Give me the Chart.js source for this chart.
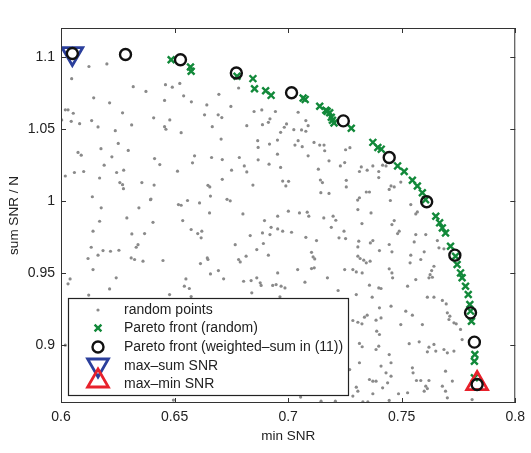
<!DOCTYPE html>
<html>
<head>
<meta charset="utf-8">
<script src="https://cdn.jsdelivr.net/npm/chart.js@4.4.1/dist/chart.umd.min.js"></script>
<style>
  body { margin: 0; background: #fff; }
  #wrap { width: 531px; height: 453px; }
</style>
</head>
<body>
<div id="wrap"><canvas id="c" width="531" height="453"></canvas></div>
<script>
// axis ticks
const xTicks = [0.6, 0.65, 0.7, 0.75, 0.8];
const yTicks = [0.9, 0.95, 1, 1.05, 1.1];

// [min SNR, sum SNR / N]
const randomPoints = [
  [0.6123,1.0933],[0.6202,1.0951],[0.6047,1.0849],[0.6318,1.0793],[0.6374,1.076],[0.646,1.0807],[0.649,1.079],[0.6523,1.0816],
  [0.654,1.073],[0.6574,1.0688],[0.6695,1.074],[0.6144,1.0716],[0.6214,1.0681],[0.6456,1.0698],[0.6642,1.0667],[0.6019,1.0633],
  [0.6031,1.0633],[0.6054,1.0609],[0.6271,1.0612],[0.6408,1.0577],[0.6479,1.0563],[0.6632,1.0598],[0.6692,1.0598],[0.6708,1.0579],
  [0.6003,1.0563],[0.6045,1.0553],[0.6082,1.0537],[0.6135,1.0558],[0.6163,1.0514],[0.6311,1.0528],[0.6456,1.0516],[0.6462,1.0498],
  [0.6529,1.0474],[0.6666,1.0516],[0.6239,1.0488],[0.6705,1.043],[0.6252,1.04],[0.6075,1.0337],[0.6089,1.0318],[0.6176,1.0363],
  [0.6296,1.0351],[0.6224,1.0307],[0.6412,1.0295],[0.6588,1.0314],[0.6663,1.0302],[0.671,1.0288],[0.6435,1.0253],[0.6579,1.0265],
  [0.619,1.0249],[0.6019,1.0174],[0.6059,1.0198],[0.61,1.0205],[0.6245,1.0198],[0.6276,1.0214],[0.6513,1.0207],[0.617,1.016],
  [0.6259,1.0128],[0.6271,1.0114],[0.6275,1.0086],[0.6356,1.0128],[0.641,1.0111],[0.6647,1.0109],[0.6655,1.0098],[0.6138,1.003],
  [0.6396,1.0014],[0.6557,1.0004],[0.6658,1.0035],
  [0.6782,1.0784],[0.6748,1.0656],[0.685,1.0621],[0.6884,1.0632],[0.6944,1.0621],[0.692,1.057],[0.6913,1.0546],[0.6818,1.0523],
  [0.6887,1.053],[0.6993,1.0535],[0.6983,1.0512],[0.6967,1.0477],[0.7044,1.0616],[0.7078,1.0558],[0.7088,1.0523],[0.7059,1.0493],
  [0.7078,1.0484],[0.7025,1.0495],[0.6866,1.0419],[0.6918,1.0395],[0.6953,1.0423],[0.6868,1.0372],[0.7044,1.0419],[0.703,1.0388],
  [0.7062,1.0377],[0.7114,1.0407],[0.7139,1.0388],[0.7158,1.0388],[0.7161,1.0349],[0.6953,1.0325],[0.7088,1.0314],[0.6785,1.0302],
  [0.6868,1.0286],[0.6916,1.0256],[0.6807,1.0244],[0.6818,1.0202],[0.6751,1.0214],[0.6967,1.0233],[0.718,1.0279],[0.7133,1.0221],
  [0.723,1.0244],[0.7249,1.0267],[0.7253,1.0356],[0.7272,1.037],[0.7322,1.0237],[0.7314,1.0205],[0.7348,1.0214],[0.7373,1.0244],
  [0.7399,1.0205],[0.671,1.0151],[0.6845,1.0111],[0.6976,1.0139],[0.7002,1.0137],[0.699,1.0105],[0.7142,1.0146],[0.7151,1.0128],
  [0.7256,1.0144],[0.7256,1.0098],[0.7144,1.0058],[0.718,1.0053],[0.7344,1.0063],[0.7358,1.0063],[0.7314,1.0023],[0.7306,1.0007],
  [0.6731,1.0012],[0.6745,1.0002],
  [0.7416,1.0249],[0.7431,1.0244],[0.7399,1.0163],[0.7453,1.0105],[0.7445,1.0081],[0.7467,1.0098],[0.7496,1.0132],[0.745,1.0004],
  [0.6177,0.9953],[0.6343,0.9953],[0.6394,1.001],[0.6517,0.9976],[0.6529,0.9971],[0.661,0.9987],[0.6654,0.9918],[0.617,0.986],
  [0.629,0.9883],[0.6405,0.9853],[0.6536,0.9865],[0.6141,0.9791],[0.6312,0.9772],[0.6368,0.9775],[0.6573,0.9803],[0.6602,0.9775],
  [0.662,0.9791],[0.6617,0.9745],[0.6133,0.968],[0.6185,0.9657],[0.6163,0.9625],[0.6218,0.9652],[0.6255,0.9659],[0.6339,0.9698],
  [0.6331,0.968],[0.6119,0.9602],[0.6309,0.9606],[0.6324,0.9595],[0.6361,0.9583],[0.6449,0.9588],[0.6614,0.9567],[0.6647,0.9595],
  [0.6644,0.9606],[0.6141,0.9525],[0.604,0.946],[0.6031,0.9426],[0.6243,0.9468],[0.6214,0.9391],[0.655,0.946],[0.6543,0.941],
  [0.6565,0.9394],[0.6658,0.9495],[0.6693,0.9518],[0.6122,0.9348],[0.6478,0.9352],[0.6573,0.9338],[0.6495,0.862],[0.6019,0.9001],
  [0.6801,0.9911],[0.6896,0.9865],[0.6954,0.9895],[0.7001,0.993],[0.705,0.9918],[0.7084,0.9923],[0.7091,0.9895],[0.7157,0.9883],
  [0.7198,0.9895],[0.721,0.9867],[0.7307,0.9941],[0.7365,0.9918],[0.7325,0.9844],[0.6925,0.9818],[0.6954,0.9807],[0.6976,0.9791],
  [0.7015,0.9784],[0.6887,0.9779],[0.692,0.9768],[0.6833,0.9761],[0.719,0.9818],[0.7246,0.9791],[0.7224,0.9745],[0.7253,0.974],
  [0.7078,0.9749],[0.7125,0.9726],[0.7311,0.9722],[0.7307,0.9682],[0.7362,0.971],[0.7373,0.9726],[0.6767,0.9698],[0.6862,0.9664],
  [0.6891,0.9706],[0.6815,0.9618],[0.6782,0.9595],[0.6789,0.9578],[0.6913,0.9625],[0.7103,0.9645],[0.711,0.9613],[0.7117,0.9599],
  [0.7307,0.9618],[0.7317,0.9602],[0.7333,0.959],[0.7344,0.9572],[0.7326,0.9502],[0.7361,0.9583],[0.6954,0.9502],[0.7042,0.9525],
  [0.7103,0.9532],[0.7115,0.9537],[0.7249,0.9525],[0.7285,0.9525],[0.73,0.9509],[0.6716,0.9461],[0.6804,0.9444],[0.6837,0.9449],
  [0.6862,0.9468],[0.6877,0.9433],[0.6881,0.9415],[0.6932,0.9415],[0.6947,0.9421],[0.6969,0.941],[0.6986,0.9398],[0.7074,0.9438],
  [0.7173,0.9468],[0.722,0.938],[0.7358,0.9417],[0.7399,0.9398],[0.7409,0.9394],[0.684,0.9364],[0.6964,0.9336],[0.73,0.9352],
  [0.737,0.9334],[0.7285,0.9172],[0.7307,0.916],[0.7325,0.9149],[0.7348,0.9209],[0.7336,0.9195],[0.739,0.9098],[0.7402,0.9075],
  [0.7314,0.9013],[0.7326,0.899],[0.7399,0.8994],[0.7387,0.8971],[0.7314,0.8879],[0.7271,0.8832],[0.7409,0.8856],[0.7358,0.8763],
  [0.7373,0.8751],[0.7387,0.8751],[0.73,0.871],[0.7307,0.8682],[0.7285,0.8648],[0.7373,0.8664],[0.7055,0.8641],[0.7145,0.8613],
  [0.7208,0.8613],[0.7329,0.8608],[0.7351,0.8608],
  [0.754,0.9976],[0.7569,0.9925],[0.7562,0.9911],[0.7467,0.9865],[0.7457,0.9837],[0.7489,0.9791],[0.7482,0.9775],[0.7562,0.9768],
  [0.7555,0.9717],[0.7606,0.9768],[0.7445,0.9699],[0.7457,0.9648],[0.7402,0.9657],[0.7599,0.9648],[0.7657,0.9726],[0.7664,0.9676],
  [0.7686,0.9669],[0.754,0.9625],[0.7584,0.9595],[0.7537,0.9572],[0.7445,0.953],[0.7457,0.9502],[0.746,0.9468],[0.7642,0.9548],
  [0.7632,0.9518],[0.7625,0.949],[0.762,0.9468],[0.7635,0.9472],[0.7562,0.9456],[0.7526,0.941],[0.7613,0.9334],[0.7642,0.9334],
  [0.7679,0.9311],[0.7696,0.9287],[0.7453,0.9271],[0.7402,0.926],[0.7518,0.9237],[0.7547,0.9209],[0.7701,0.9225],[0.7712,0.9202],
  [0.7708,0.9179],[0.7387,0.9174],[0.7409,0.919],[0.7496,0.9144],[0.7591,0.9144],[0.773,0.9156],[0.774,0.9149],[0.7759,0.911],
  [0.7533,0.9011],[0.7577,0.9024],[0.7642,0.9006],[0.765,0.896],[0.762,0.8987],[0.7613,0.8955],[0.7686,0.8971],[0.773,0.896],
  [0.7701,0.8948],[0.7766,0.904],[0.7445,0.8936],[0.7453,0.8879],[0.7431,0.8809],[0.7453,0.8786],[0.7438,0.874],[0.7547,0.8844],
  [0.755,0.8809],[0.7565,0.8756],[0.7584,0.8756],[0.762,0.8756],[0.7693,0.8821],[0.7679,0.8717],[0.7693,0.8682],[0.7723,0.8752],
  [0.7606,0.8717],[0.7599,0.8682],[0.7613,0.87],[0.7486,0.8664],[0.7526,0.8671],[0.7416,0.8705],[0.7701,0.8636],[0.781,0.8624],
  [0.7445,0.8618]
];

const paretoRandom = [
  [0.6485,1.098],[0.657,1.093],[0.6573,1.09],[0.6775,1.0865],[0.6845,1.0849],[0.6852,1.0779],[0.6901,1.0765],[0.6925,1.0733],
  [0.7066,1.0714],[0.7075,1.0705],[0.7139,1.0658],[0.7166,1.063],[0.7172,1.0622],[0.7183,1.0612],[0.719,1.0581],[0.7195,1.056],
  [0.7202,1.0542],[0.7278,1.0505],[0.7373,1.0407],[0.7395,1.0372],[0.741,1.036],[0.7482,1.0244],[0.7511,1.0205],[0.7547,1.0144],
  [0.7569,1.0105],[0.7591,1.0058],[0.7605,1.001],[0.765,0.9895],[0.7667,0.9849],[0.7679,0.9814],[0.7693,0.9779],[0.7715,0.9687],
  [0.7737,0.9618],[0.7744,0.956],[0.7759,0.9502],[0.7766,0.9468],[0.7781,0.941],[0.7793,0.9352],[0.78,0.9283],[0.7803,0.9237],
  [0.7807,0.9167],[0.7822,0.8936],[0.782,0.889],[0.782,0.8775]
];

const paretoWeighted = [
  [0.605,1.1023],[0.6284,1.1016],[0.6526,1.098],[0.6772,1.0888],[0.7015,1.0751],[0.7243,1.0556],
  [0.7445,1.0302],[0.761,0.9995],[0.7734,0.9625],[0.7803,0.9225],[0.782,0.9022],[0.7832,0.8728]
];

const maxSum = [[0.605,1.1023]];
const maxMin = [[0.7832,0.8735]];

const labels = ['random points', 'Pareto front (random)', 'Pareto front (weighted\u2013sum in (11))', 'max\u2013sum SNR', 'max\u2013min SNR'];

const FONT = '"Liberation Sans", Arial, Helvetica, sans-serif';
const GRAY = '#8a8a8a', GREEN = '#12893a', BLUE = '#2b3f9c', RED = '#e8212b', INK = '#222';

const pts = arr => arr.map(([x, y]) => ({x, y}));

function marker(ctx, kind, x, y) {
  ctx.save();
  ctx.beginPath();
  if (kind === 'dot') {
    ctx.fillStyle = GRAY;
    ctx.arc(x, y, 1.6, 0, Math.PI * 2);
    ctx.fill();
  } else if (kind === 'x') {
    ctx.strokeStyle = GREEN; ctx.lineWidth = 2.4;
    ctx.moveTo(x - 3.4, y - 3.4); ctx.lineTo(x + 3.4, y + 3.4);
    ctx.moveTo(x + 3.4, y - 3.4); ctx.lineTo(x - 3.4, y + 3.4);
    ctx.stroke();
  } else if (kind === 'o') {
    ctx.strokeStyle = '#111'; ctx.lineWidth = 2.4;
    ctx.arc(x, y, 5.5, 0, Math.PI * 2);
    ctx.stroke();
  } else {
    const r = 12, dir = kind === 'down' ? -1 : 1;
    ctx.strokeStyle = kind === 'down' ? BLUE : RED; ctx.lineWidth = 2.8;
    ctx.moveTo(x, y - dir * r);
    ctx.lineTo(x + r * 0.866, y + dir * r * 0.5);
    ctx.lineTo(x - r * 0.866, y + dir * r * 0.5);
    ctx.closePath();
    ctx.stroke();
  }
  ctx.restore();
}

// frame, inward ticks and the boxed legend
const framePlugin = {
  id: 'frame',
  afterDraw(chart) {
    const {ctx, chartArea: a, scales} = chart;
    ctx.save();
    ctx.strokeStyle = '#333';
    ctx.lineWidth = 1;
    ctx.strokeRect(a.left + 0.5, a.top + 0.5, a.right - a.left - 1, a.bottom - a.top - 1);
    ctx.beginPath();
    xTicks.forEach(v => {
      const px = Math.round(scales.x.getPixelForValue(v)) + 0.5;
      ctx.moveTo(px, a.bottom); ctx.lineTo(px, a.bottom - 5);
      ctx.moveTo(px, a.top); ctx.lineTo(px, a.top + 5);
    });
    yTicks.forEach(v => {
      const py = Math.round(scales.y.getPixelForValue(v)) + 0.5;
      ctx.moveTo(a.left, py); ctx.lineTo(a.left + 5, py);
      ctx.moveTo(a.right, py); ctx.lineTo(a.right - 5, py);
    });
    ctx.stroke();

    // legend box
    const bx = a.left + 7, by = a.bottom - 105, bw = 280, bh = 97;
    ctx.fillStyle = '#fff';
    ctx.fillRect(bx, by, bw, bh);
    ctx.strokeStyle = '#222';
    ctx.lineWidth = 1.2;
    ctx.strokeRect(bx + 0.5, by + 0.5, bw, bh);
    const kinds = ['dot', 'x', 'o', 'down', 'up'];
    const rowY = [12, 30, 49, 68, 86];
    ctx.font = '14px ' + FONT;
    ctx.textBaseline = 'middle';
    kinds.forEach((k, i) => {
      const cy = by + rowY[i];
      if (k === 'down') marker(ctx, k, bx + 30, cy - 1);
      else if (k === 'up') marker(ctx, k, bx + 30, cy - 3);
      else marker(ctx, k, bx + 30, cy);
      ctx.fillStyle = INK;
      ctx.fillText(labels[i], bx + 56, cy);
    });
    ctx.restore();
  }
};

new Chart(document.getElementById('c'), {
  type: 'scatter',
  data: {
    datasets: [
      { label: labels[0], data: pts(randomPoints), pointRadius: 1.6, pointBackgroundColor: GRAY, pointBorderWidth: 0, order: 5 },
      { label: labels[1], data: pts(paretoRandom), pointStyle: 'crossRot', pointRadius: 4.8, borderColor: GREEN, pointBorderWidth: 2.4, order: 4 },
      { label: labels[3], data: pts(maxSum), pointStyle: 'triangle', pointRotation: 180, pointRadius: 12, borderColor: BLUE, backgroundColor: 'rgba(0,0,0,0)', pointBorderWidth: 2.8, order: 3 },
      { label: labels[4], data: pts(maxMin), pointStyle: 'triangle', pointRadius: 12, borderColor: RED, backgroundColor: 'rgba(0,0,0,0)', pointBorderWidth: 2.8, order: 2 },
      { label: labels[2], data: pts(paretoWeighted), pointStyle: 'circle', pointRadius: 5.5, borderColor: '#111', backgroundColor: 'rgba(0,0,0,0)', pointBorderWidth: 2.4, order: 1 }
    ]
  },
  options: {
    responsive: false,
    animation: false,
    events: [],
    layout: { padding: { left: 0, right: 13, top: 28, bottom: 0 } },
    plugins: { legend: { display: false }, tooltip: { enabled: false } },
    scales: {
      x: {
        type: 'linear', min: 0.6, max: 0.8,
        afterBuildTicks: s => { s.ticks = xTicks.map(v => ({ value: v })); },
        afterFit: s => { s.height = 50; },
        grid: { display: false, drawTicks: false }, border: { display: false },
        ticks: { color: INK, padding: 6, font: { size: 14, family: FONT }, callback: v => String(v), maxRotation: 0 },
        title: { display: true, text: 'min SNR', color: INK, font: { size: 13.5, family: FONT }, padding: { top: 0, bottom: 9 } }
      },
      y: {
        type: 'linear', min: 0.86, max: 1.12,
        afterBuildTicks: s => { s.ticks = yTicks.map(v => ({ value: v })); },
        afterFit: s => { s.width = 61; },
        grid: { display: false, drawTicks: false }, border: { display: false },
        ticks: { color: INK, padding: 6, font: { size: 14, family: FONT }, callback: v => String(v) },
        title: { display: true, text: 'sum SNR / N', color: INK, font: { size: 13.5, family: FONT }, padding: { top: 6, bottom: 0 } }
      }
    }
  },
  plugins: [framePlugin]
});
</script>
</body>
</html>
